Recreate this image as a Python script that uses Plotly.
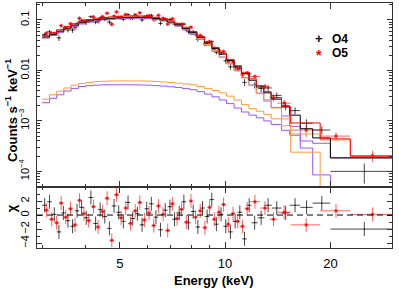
import numpy as np
import plotly.graph_objects as go
from plotly.subplots import make_subplots

# ---------------- O4 data (black) ----------------
o4_edges = [3.00, 3.10, 3.20, 3.30, 3.40, 3.50, 3.61, 3.72, 3.83, 3.95, 4.07, 4.20, 4.33, 4.46,
            4.60, 4.74, 4.89, 5.04, 5.20, 5.36, 5.53, 5.70, 5.88, 6.06, 6.25, 6.44, 6.64, 6.85,
            7.06, 7.28, 7.51, 7.74, 7.98, 8.23, 8.49, 8.75, 9.02, 9.30, 9.59, 9.89, 10.20, 10.52,
            10.85, 11.19, 11.54, 11.90, 12.40, 12.95, 13.60, 14.50, 15.30, 16.40, 17.80, 20.00, 30.00]
o4_rate = [0.0513, 0.0583, 0.0535, 0.0441, 0.0649, 0.0635, 0.0630, 0.0848, 0.0966, 0.0893,
           0.1164, 0.0904, 0.1096, 0.1033, 0.0907, 0.1203, 0.1135, 0.1030, 0.1281, 0.1085,
           0.1148, 0.1003, 0.1201, 0.1241, 0.1044, 0.0857, 0.1045, 0.1019, 0.0828, 0.0809,
           0.0829, 0.0584, 0.0585, 0.0415, 0.0458, 0.0354, 0.0371, 0.0230, 0.0222, 0.0155,
           0.0118, 0.0116, 0.0110, 0.0058, 0.0085, 0.0051, 0.0044, 0.0045, 0.0032, 0.0020,
           0.0016, 0.0009, 0.00066, 0.00010]
o4_err = [0.0045, 0.0049, 0.0053, 0.0058, 0.0063, 0.0069, 0.0075, 0.0080, 0.0087, 0.0093,
          0.0078, 0.0080, 0.0082, 0.0084, 0.0086, 0.0087, 0.0088, 0.0089, 0.0090, 0.0090,
          0.0090, 0.0090, 0.0090, 0.0088, 0.0086, 0.0082, 0.0079, 0.0074, 0.0070, 0.0063,
          0.0058, 0.0051, 0.0050, 0.0044, 0.0038, 0.0032, 0.0028, 0.0023, 0.0022, 0.00185,
          0.00155, 0.00128, 0.00106, 0.00088, 0.00088, 0.00071, 0.00071, 0.00056, 0.00046,
          0.00038, 0.00026, 0.000175, 0.00012, 0.000043]
o4_chi = [1.4, 1.9, 0.1, -2.4, 0.3, -0.8, -1.6, 0.6, 1.1, -0.4,
          2.5, -1.2, 0.8, -0.2, -1.9, 1.3, 0.4, -0.9, 1.8, -0.5,
          0.2, -1.4, 0.9, 1.6, -0.3, -2.1, 0.7, 1.2, -0.6, 0.3,
          1.9, -1.1, 0.5, -1.7, 1.0, -0.2, 2.2,
          -1.3, 0.1, -1.6, -2.4, -0.9, 0.4, -3.4, 1.4, -1.1, -0.4, 1.4, 1.0, 0.3, 1.4, 1.1, 1.7, -2.0]

# ---------------- O5 data (red) ----------------
o5_edges = [3.03, 3.14, 3.25, 3.35, 3.45, 3.56, 3.67, 3.78, 3.89, 4.01, 4.14, 4.27, 4.40, 4.53,
            4.67, 4.82, 4.97, 5.12, 5.28, 5.45, 5.62, 5.79, 5.97, 6.16, 6.35, 6.55, 6.75, 6.96,
            7.18, 7.40, 7.63, 7.87, 8.11, 8.36, 8.62, 8.89, 9.17, 9.46, 9.75, 10.05, 10.37, 10.70,
            11.04, 11.38, 11.74, 12.60, 13.40, 14.10, 15.40, 18.70, 22.80, 30.00]
o5_rate = [0.0546, 0.0526, 0.0543, 0.0772, 0.0689, 0.0839, 0.0714, 0.1077, 0.0969, 0.0945,
           0.1151, 0.0942, 0.1165, 0.1359, 0.0826, 0.1441, 0.1142, 0.1285, 0.1085, 0.1268,
           0.1384, 0.1133, 0.1219, 0.1021, 0.1236, 0.1079, 0.0832, 0.1060, 0.0826, 0.0830,
           0.0644, 0.0719, 0.0525, 0.0495, 0.0335, 0.0374, 0.0274, 0.0249, 0.0236, 0.0150,
           0.0146, 0.0107, 0.0082, 0.0089, 0.0076, 0.0048, 0.0029, 0.00225, 0.00066, 0.00050,
           0.000205]
o5_err = [0.0051, 0.0056, 0.0061, 0.0066, 0.0071, 0.0077, 0.0083, 0.0089, 0.0095,
          0.0081, 0.0084, 0.0087, 0.0090, 0.0091, 0.0093, 0.0094, 0.0094, 0.0095, 0.0096,
          0.0097, 0.0097, 0.0096, 0.0095, 0.0093, 0.0090, 0.0086, 0.0081, 0.0075, 0.0069,
          0.0062, 0.0056, 0.0050, 0.0049, 0.0042, 0.0036, 0.0031, 0.0026, 0.0022,
          0.0021, 0.0017, 0.0014, 0.0012, 0.00098, 0.00082, 0.00074, 0.00063, 0.00048,
          0.00038, 0.00018, 0.000097, 0.00005]
o5_chi = [0.7, -0.6, -1.1, 1.7, -0.3, 0.9, -1.4, 2.1, 0.2, -0.8,
          1.2, -1.7, 0.5, 2.4, -3.6, 2.9, -0.4, 1.0, -1.2, 0.6,
          1.8, -0.7, 0.3, -1.5, 1.3, 0.1, -2.2, 1.6, -0.5, 0.8,
          -1.0, 2.0, -0.3, 0.6, -1.8, 1.1, -0.6, 0.4, 1.5, -1.3,
          0.2, -0.9, -1.6, 0.9, 1.9, 1.0, -0.6, 0.4, -1.4, 0.6, 0.1]

# ---------------- models (step functions) ----------------
o4_model_edges = [3.00, 3.15, 3.30, 3.46, 3.63, 3.81, 4.00, 4.20, 4.41, 4.63, 4.86, 5.10, 5.36,
                  5.63, 5.91, 6.20, 6.51, 6.84, 7.18, 7.54, 7.92, 8.31, 8.73, 9.17, 9.62, 10.10,
                  10.61, 11.14, 11.70, 12.28, 12.90, 13.54, 14.50, 15.30, 16.40, 17.80, 20.00, 30.00]
o4_total = [0.046, 0.052, 0.060, 0.069, 0.079, 0.088, 0.096, 0.101, 0.105, 0.108, 0.110, 0.112,
            0.113, 0.113, 0.111, 0.107, 0.100, 0.091, 0.080, 0.068, 0.056, 0.045, 0.035, 0.027,
            0.021, 0.0158, 0.0118, 0.0087, 0.0064, 0.0047, 0.0036, 0.0027,
            0.0019, 0.0013, 0.0007, 0.00046, 0.000185]
o4_comp1 = [0.0437, 0.0492, 0.0567, 0.0651, 0.0746, 0.0832, 0.0910, 0.0959, 0.0998, 0.1028,
            0.1048, 0.1068, 0.1078, 0.1079, 0.1059, 0.1020, 0.0951, 0.0863, 0.0754, 0.0636,
            0.0519, 0.0412, 0.0316, 0.0240, 0.0184, 0.0136, 0.0100, 0.0072, 0.0051, 0.00355,
            0.0026, 0.00185, 0.00125, 0.00078, 0.00029, 0.000085, 1e-8]
o4_comp2 = [2.3e-3, 2.8e-3, 3.3e-3, 3.9e-3, 4.4e-3, 4.8e-3, 5.0e-3, 5.1e-3, 5.2e-3, 5.2e-3,
            5.2e-3, 5.2e-3, 5.2e-3, 5.15e-3, 5.1e-3, 5.0e-3, 4.9e-3, 4.75e-3, 4.6e-3, 4.4e-3,
            4.15e-3, 3.8e-3, 3.4e-3, 3.0e-3, 2.6e-3, 2.2e-3, 1.8e-3, 1.5e-3, 1.3e-3, 1.15e-3,
            1.0e-3, 8.5e-4, 6.5e-4, 5.2e-4, 4.0e-4, 3.6e-4, 1.85e-4]

o5_model_edges = [3.00, 3.15, 3.30, 3.46, 3.63, 3.81, 4.00, 4.20, 4.41, 4.63, 4.86, 5.10, 5.36,
                  5.63, 5.91, 6.20, 6.51, 6.84, 7.18, 7.54, 7.92, 8.31, 8.73, 9.17, 9.62, 10.10,
                  10.61, 11.14, 11.70, 12.28, 12.90, 13.54, 14.50, 15.40, 18.70, 22.80, 30.00]
o5_total = [0.049, 0.056, 0.064, 0.074, 0.084, 0.094, 0.102, 0.108, 0.112, 0.115, 0.118, 0.120,
            0.121, 0.120, 0.118, 0.113, 0.106, 0.096, 0.085, 0.072, 0.059, 0.047, 0.037, 0.0285,
            0.022, 0.0166, 0.0124, 0.0092, 0.0068, 0.0050, 0.0038, 0.0029,
            0.0019, 0.00091, 0.00044, 0.00020]
o5_comp1 = [0.0463, 0.0527, 0.0601, 0.0695, 0.0789, 0.0885, 0.0962, 0.1020, 0.1059, 0.1088,
            0.1118, 0.1138, 0.1148, 0.1138, 0.1119, 0.1070, 0.1001, 0.0903, 0.0794, 0.0666,
            0.0538, 0.0422, 0.0326, 0.0245, 0.0184, 0.0135, 0.0098, 0.0071, 0.00505, 0.00345,
            0.00245, 0.0018, 0.0011, 0.00024, 1e-8, 1e-8]
o5_comp2 = [2.7e-3, 3.3e-3, 3.9e-3, 4.5e-3, 5.1e-3, 5.5e-3, 5.8e-3, 6.0e-3, 6.1e-3, 6.2e-3,
            6.2e-3, 6.2e-3, 6.2e-3, 6.2e-3, 6.15e-3, 6.05e-3, 5.9e-3, 5.75e-3, 5.6e-3, 5.4e-3,
            5.2e-3, 4.8e-3, 4.4e-3, 4.0e-3, 3.6e-3, 3.1e-3, 2.6e-3, 2.1e-3, 1.75e-3, 1.55e-3,
            1.35e-3, 1.1e-3, 8.0e-4, 5.5e-4, 4.2e-4, 2.0e-4]

# ---------------- ticks ----------------
x_ticks = [5, 10, 20]
x_ticktext = ["5", "10", "20"]
x_minor = [3, 4, 6, 7, 8, 9, 30]
y_ticks = [1e-4, 1e-3, 1e-2, 1e-1]
y_ticktext = ["10<sup>−4</sup>", "10<sup>−3</sup>", "0.01", "0.1"]
y_minor = [5e-5, 6e-5, 7e-5, 8e-5, 9e-5,
           2e-4, 3e-4, 4e-4, 5e-4, 6e-4, 7e-4, 8e-4, 9e-4,
           2e-3, 3e-3, 4e-3, 5e-3, 6e-3, 7e-3, 8e-3, 9e-3,
           2e-2, 3e-2, 4e-2, 5e-2, 6e-2, 7e-2, 8e-2, 9e-2, 0.2]
chi_ticks = [-4, -2, 0, 2]
chi_ticktext = ["−4", "−2", "0", "2"]
chi_minor = [-3, -1, 1, 3]

BLACK_ERR = "rgba(0,0,0,0.72)"
RED_ERR = "rgba(255,0,0,0.62)"
ORANGE = "#ff9a3c"
PURPLE = "#9b55ff"


def bins(edges):
    e = np.asarray(edges, dtype=float)
    c = 0.5 * (e[:-1] + e[1:])
    return c, e[1:] - c, c - e[:-1]


def step(edges, vals):
    return list(edges), list(vals) + [vals[-1]]


fig = make_subplots(rows=2, cols=1, shared_xaxes=True, vertical_spacing=0,
                    row_heights=[0.751, 0.249])

c4, hi4, lo4 = bins(o4_edges)
c5, hi5, lo5 = bins(o5_edges)

red_marker = dict(size=3, symbol="asterisk-open", color="red", line=dict(color="red", width=0.8))

# data, top panel
fig.add_trace(go.Scatter(
    x=c4, y=o4_rate, mode="markers", marker=dict(size=1, color="black"),
    error_x=dict(type="data", symmetric=False, array=hi4, arrayminus=lo4,
                 color=BLACK_ERR, thickness=1, width=0),
    error_y=dict(type="data", array=o4_err, color=BLACK_ERR, thickness=1, width=0),
    showlegend=False), row=1, col=1)
fig.add_trace(go.Scatter(
    x=c5, y=o5_rate, mode="markers", marker=red_marker,
    error_x=dict(type="data", symmetric=False, array=hi5, arrayminus=lo5,
                 color=RED_ERR, thickness=1, width=0),
    error_y=dict(type="data", array=o5_err, color=RED_ERR, thickness=1, width=0),
    showlegend=False), row=1, col=1)

# models
for edges, vals, col in [
    (o4_model_edges, o4_comp2, PURPLE), (o5_model_edges, o5_comp2, ORANGE),
    (o4_model_edges, o4_comp1, PURPLE), (o5_model_edges, o5_comp1, ORANGE),
    (o4_model_edges, o4_total, "black"), (o5_model_edges, o5_total, "red")]:
    xs, ys = step(edges, vals)
    fig.add_trace(go.Scatter(x=xs, y=ys, mode="lines", line=dict(color=col, width=1, shape="hv"),
                             showlegend=False, hoverinfo="skip"), row=1, col=1)

# residuals
fig.add_trace(go.Scatter(
    x=c4, y=o4_chi, mode="markers", marker=dict(size=1, color="black"),
    error_x=dict(type="data", symmetric=False, array=hi4, arrayminus=lo4,
                 color=BLACK_ERR, thickness=1, width=0),
    error_y=dict(type="constant", value=1, color=BLACK_ERR, thickness=1, width=0),
    showlegend=False), row=2, col=1)
fig.add_trace(go.Scatter(
    x=c5, y=o5_chi, mode="markers", marker=red_marker,
    error_x=dict(type="data", symmetric=False, array=hi5, arrayminus=lo5,
                 color=RED_ERR, thickness=1, width=0),
    error_y=dict(type="constant", value=1, color=RED_ERR, thickness=1, width=0),
    showlegend=False), row=2, col=1)

fig.add_hline(y=0, row=2, col=1, line=dict(color="black", width=1, dash="6px,4px"))

axis_common = dict(showline=True, linecolor="#333", linewidth=1, mirror="ticks",
                   ticks="inside", tickcolor="#333", tickwidth=1, showgrid=False,
                   zeroline=False)
xr = [np.log10(2.9), np.log10(30.0)]
fig.update_xaxes(type="log", range=xr, tickvals=x_ticks, ticktext=x_ticktext, ticklen=6,
                 minor=dict(tickvals=x_minor, ticks="inside", ticklen=3, tickcolor="#333"),
                 **axis_common)
fig.update_xaxes(showticklabels=False, row=1, col=1)
fig.update_xaxes(showticklabels=True, tickfont=dict(size=13), ticklabelstandoff=3,
                 automargin=False, row=2, col=1)
fig.update_yaxes(type="log", range=[np.log10(4.9e-5), np.log10(0.217)],
                 tickvals=y_ticks, ticktext=y_ticktext, tickangle=-90, ticklen=5,
                 tickfont=dict(size=11), ticklabelstandoff=3,
                 minor=dict(tickvals=y_minor, ticks="inside", ticklen=3, tickcolor="#333"),
                 automargin=False, row=1, col=1, **axis_common)
fig.update_yaxes(range=[-4.7, 4.0], tickvals=chi_ticks, ticktext=chi_ticktext,
                 tickangle=-90, ticklen=5, tickfont=dict(size=11), ticklabelstandoff=3,
                 minor=dict(tickvals=chi_minor, ticks="inside", ticklen=3, tickcolor="#333"),
                 automargin=False, row=2, col=1, **axis_common)

annots = [
    dict(text="<b>Counts s<sup>−1</sup> keV<sup>−1</sup></b>", x=-0.073, y=0.56,
         textangle=-90, font=dict(size=13)),
    dict(text="<b>χ</b>", x=-0.073, y=0.163, textangle=-90, font=dict(size=13)),
    dict(text="<b>Energy (keV)</b>", x=0.497, y=-0.131, font=dict(size=13)),
    dict(text="<b>+</b>", x=0.795, y=0.855, font=dict(size=13, color="black")),
    dict(text="<b>O4</b>", x=0.854, y=0.855, font=dict(size=12, color="black")),
    dict(text="<b>*</b>", x=0.795, y=0.788, font=dict(size=14, color="red")),
    dict(text="<b>O5</b>", x=0.854, y=0.795, font=dict(size=12, color="black")),
]
for a in annots:
    fig.add_annotation(xref="paper", yref="paper", showarrow=False,
                       xanchor="center", yanchor="middle", borderpad=0, **a)

fig.update_layout(width=399, height=290, margin=dict(l=37, r=7, t=3, b=42),
                  paper_bgcolor="white", plot_bgcolor="white",
                  font=dict(family="Liberation Sans, Arial, sans-serif", color="black"),
                  showlegend=False)

fig.write_html("out.html", config={"displayModeBar": False},
               post_script="document.body.style.margin='0px';")
